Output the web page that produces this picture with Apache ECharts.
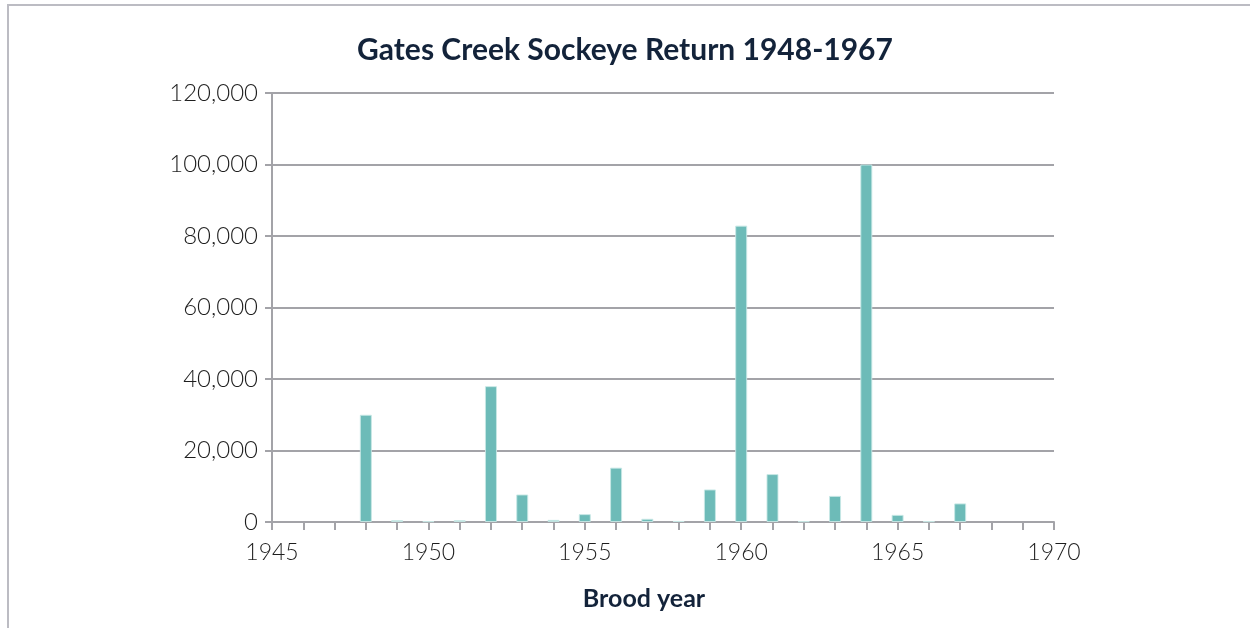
<!DOCTYPE html>
<html>
<head>
<meta charset="utf-8">
<script src="https://cdn.jsdelivr.net/npm/echarts@6/dist/echarts.min.js"></script>
<style>
html,body{margin:0;padding:0;background:#fff;overflow:hidden;}
#frame{position:absolute;left:7px;top:4px;width:1300px;height:700px;border-top:2px solid #bcbcc3;border-left:2px solid #bcbcc3;box-sizing:border-box;}
#chart{position:absolute;left:0;top:0;width:1250px;height:628px;}
</style>
</head>
<body>
<div id="frame"></div>
<div id="chart"></div>
<script>
const titleText = "Gates Creek Sockeye Return 1948-1967";
const xAxisName = "Brood year";
const years = [1948,1949,1950,1951,1952,1953,1954,1955,1956,1957,1958,1959,1960,1961,1962,1963,1964,1965,1966,1967];
const returns = [30000,500,200,500,38000,7700,600,2200,15200,900,300,9100,82900,13400,200,7300,100000,2000,200,5200];
const xMin = 1945, xMax = 1970, xInterval = 5;
const yMin = 0, yMax = 120000, yInterval = 20000;

const chart = echarts.init(document.getElementById('chart'));
const font = 'Lato, "Open Sans", sans-serif';
chart.setOption({
  animation:false,
  title:{text:titleText,left:'center',top:30,textStyle:{fontFamily:font,fontWeight:'bold',fontSize:30,color:'#13233a'}},
  grid:{left:272,right:196,top:93,bottom:106,containLabel:false},
  xAxis:{type:'value',min:xMin,max:xMax,interval:xInterval,
    name:xAxisName,nameLocation:'middle',nameGap:64,
    nameTextStyle:{fontFamily:font,fontWeight:'bold',fontSize:25,color:'#13233a',padding:[0,38,0,0]},
    axisLine:{show:true,lineStyle:{color:'#a3a3a8',width:2}},
    axisTick:{show:true,length:8,lineStyle:{color:'#a3a3a8',width:2}},
    minorTick:{show:true,splitNumber:5,length:8,lineStyle:{color:'#a3a3a8',width:2}},
    splitLine:{show:false},
    axisLabel:{fontFamily:font,fontWeight:300,fontSize:23,color:'#1e1e1e',margin:19,formatter:v=>String(v)}
  },
  yAxis:{type:'value',min:yMin,max:yMax,interval:yInterval,
    axisLine:{show:true,lineStyle:{color:'#a3a3a8',width:2}},
    axisTick:{show:true,length:7,lineStyle:{color:'#a3a3a8',width:2}},
    splitLine:{show:true,lineStyle:{color:'#a3a3a8',width:2}},
    axisLabel:{fontFamily:font,fontWeight:300,fontSize:24,color:'#1e1e1e',margin:14,formatter:v=>v.toLocaleString('en-US')}
  },
  series:[{type:'bar',barWidth:12,data:years.map((y,i)=>[y,returns[i]]),
    itemStyle:{color:'#6dbbb8',borderColor:'rgba(200,232,230,0.9)',borderWidth:1}}]
});
</script>
</body>
</html>
